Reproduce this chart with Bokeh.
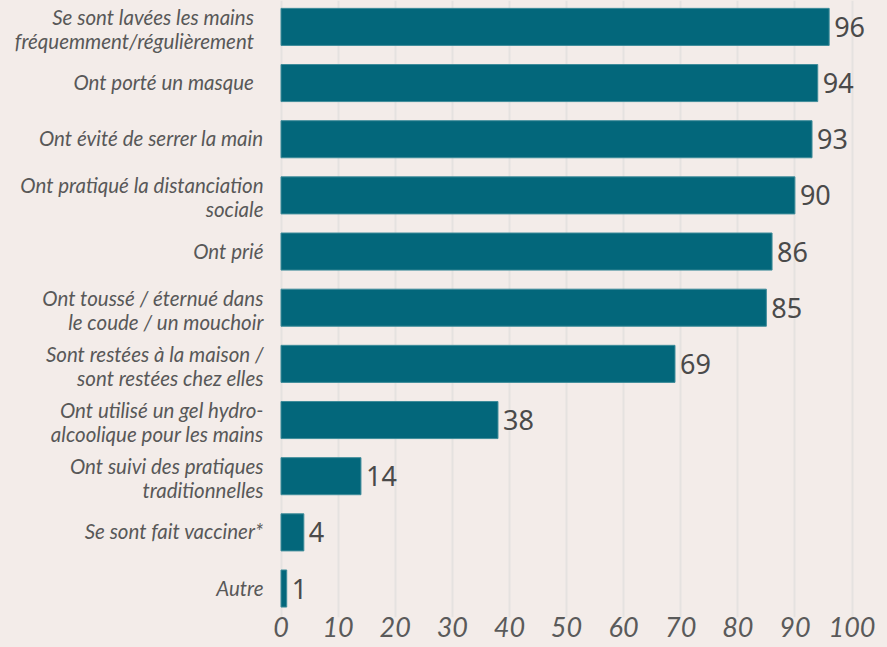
from bokeh.plotting import figure
from bokeh.models import ColumnDataSource, FixedTicker
from bokeh.embed import file_html
from bokeh.resources import INLINE
from bokeh.core.properties import value

NB = "\u00a0\u00a0"
categories = [
    "Se sont lavées les mains" + NB + "\nfréquemment/régulièrement" + NB,
    "Ont porté un masque" + NB,
    "Ont évité de serrer la main",
    "Ont pratiqué la distanciation\nsociale",
    "Ont prié",
    "Ont toussé / éternué dans\nle coude / un mouchoir",
    "Sont restées à la maison /\nsont restées chez elles",
    "Ont utilisé un gel hydro-\nalcoolique pour les mains",
    "Ont suivi des pratiques\ntraditionnelles",
    "Se sont fait vacciner*",
    "Autre",
]
values = [96, 94, 93, 90, 86, 85, 69, 38, 14, 4, 1]
ticks = [0, 10, 20, 30, 40, 50, 60, 70, 80, 90, 100]

BG = "#F3ECE9"
BAR = "#03677B"
n = len(categories)
ypos = [n - 1 - i for i in range(n)]

W, H = 887, 647
px_per_unit = 5.71
x0_px = 280.5
x_start = -x0_px / px_per_unit
x_end = (W - x0_px) / px_per_unit
label_x = (263 - x0_px) / px_per_unit

src = ColumnDataSource(dict(
    y=ypos, v=values, cat=categories,
    vlab=[str(v) for v in values],
    lx=[label_x] * n,
    yo=[2 if "\n" in c else -1 for c in categories],
))

p = figure(width=W, height=H, output_backend="svg", toolbar_location=None,
           x_range=(x_start, x_end), y_range=(-0.516, n - 1 + 0.47),
           min_border_left=0, min_border_right=0, min_border_top=0,
           min_border_bottom=30)
p.background_fill_color = BG
p.border_fill_color = BG
p.outline_line_color = None

p.hbar(y="y", right="v", left=0, height=0.66, source=src,
       fill_color=BAR, line_color="#3f8c9a", line_width=1)

p.text(x="v", y="y", text="vlab", source=src, x_offset=5,
       text_align="left", text_baseline="middle",
       text_font=value("Noto Sans"), text_font_size="27px",
       text_color="#4a4a4a")

p.text(x="lx", y="y", text="cat", source=src, y_offset="yo",
       text_align="right", text_baseline="middle",
       text_font=value("Lato"), text_font_style="italic",
       text_font_size="20.5px", text_color="#585858", text_line_height=1.0)

p.yaxis.visible = False
p.ygrid.grid_line_color = None
p.xgrid.ticker = FixedTicker(ticks=ticks)
p.xgrid.grid_line_color = "#E5E2E0"
p.xgrid.grid_line_width = 2

xa = p.xaxis[0]
xa.ticker = FixedTicker(ticks=ticks)
xa.axis_line_color = None
xa.major_tick_line_color = None
xa.minor_tick_line_color = None
xa.major_tick_in = 0
xa.major_tick_out = 0
xa.major_label_standoff = -1
xa.major_label_text_font = "Lato"
xa.major_label_text_font_style = "italic"
xa.major_label_text_font_size = "27px"
xa.major_label_text_color = "#5a5a5a"

html = file_html(p, INLINE)
html = html.replace("<body>", '<body style="background-color:#F3ECE9">')
open("out.html", "w").write(html)
